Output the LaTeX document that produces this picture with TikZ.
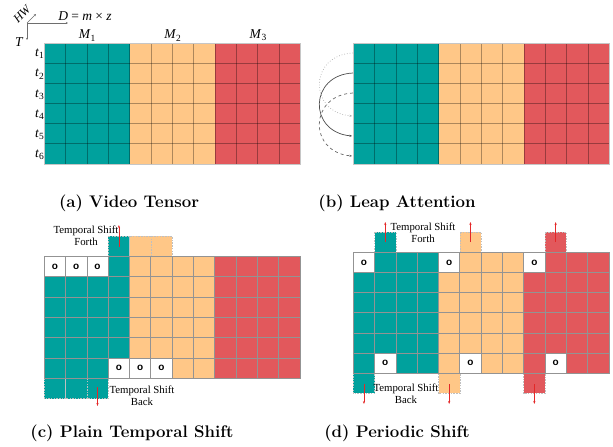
\documentclass[tikz,border=0pt]{standalone}
\usepackage{fontspec}
\newfontfamily\tfont{Liberation Serif}
\newfontfamily\sfont{Liberation Sans}
\usetikzlibrary{arrows.meta}
\definecolor{cteal}{RGB}{0,161,157}
\definecolor{corange}{RGB}{255,199,135}
\definecolor{cred}{RGB}{226,88,92}
\definecolor{cax}{RGB}{110,110,110}
\definecolor{carrow}{RGB}{228,40,40}
\newcommand\pcell[4]{\path[fill=#3,#4] ({\pX+(#1)*\pW},{\pY+(#2)*\pH}) rectangle ++(\pW,\pH);}
\tikzset{
  gl/.style={draw=black, draw opacity=0.32, line width=0.8pt},
  gl2/.style={draw=gray!85, line width=0.7pt},
  dcell/.style={draw=gray!50, dash pattern=on 1.5pt off 1.2pt, line width=0.6pt},
  rar/.style={draw=carrow, line width=0.6pt, -{Stealth[length=3pt,width=2.2pt]}},
  onode/.style={font=\sfont\bfseries\fontsize{10}{10}\selectfont, inner sep=0pt},
  lbl/.style={font=\tfont\fontsize{13.5}{13.5}\selectfont, inner sep=0pt},
  ts/.style={font=\tfont\fontsize{10.8}{11.8}\selectfont, align=center, inner sep=0pt},
  captxt/.style={font=\bfseries\fontsize{16.8}{17}\selectfont, inner sep=0pt},
  axis/.style={draw=cax, line width=0.6pt, -{Stealth[length=2.2pt,width=2pt]}},
  lk/.style={line width=0.7pt, -{Stealth[length=2.6pt,width=2.2pt]}}
}
\begin{document}
\begin{tikzpicture}[x=1pt,y=-1pt]
\useasboundingbox (0,0) rectangle (613,447);

% ---------- (a) and (b): full tensors ----------
\foreach \bx in {44.3,353.3}{
  \foreach \c in {0,...,3}{\foreach \r in {0,...,5}{
    \fill[cteal] ({\bx+\c*21.35},{43+\r*20.17}) rectangle ++(21.35,20.17);}}
  \foreach \c in {4,...,7}{\foreach \r in {0,...,5}{
    \fill[corange] ({\bx+\c*21.35},{43+\r*20.17}) rectangle ++(21.35,20.17);}}
  \foreach \c in {8,...,11}{\foreach \r in {0,...,5}{
    \fill[cred] ({\bx+\c*21.35},{43+\r*20.17}) rectangle ++(21.35,20.17);}}
  \foreach \i in {1,...,11}{\draw[gl] ({\bx+\i*21.35},43) -- ++(0,121.02);}
  \foreach \j in {1,...,5}{\draw[gl] (\bx,{43+\j*20.17}) -- ++(256.2,0);}
  \draw[gray!45, line width=0.8pt] (\bx,43) rectangle ++(256.2,121.02);
}

% axes of (a)
\coordinate (O) at (27,23);
\coordinate (Ox) at (68,23);
\coordinate (Oy) at (27,40);
\coordinate (Od) at (36,14);
\draw[axis] (O) -- (Ox);
\draw[axis] (O) -- (Oy);
\draw[axis] (O) -- (Od);
\node[lbl, rotate=45, font=\tfont\fontsize{12}{12}\selectfont] (hw) at (22,14) {\itshape HW};
\node[lbl] (dlab) at (85,16.5) {\textit{D} = \textit{m} × \textit{z}};
\node[lbl] (tlab) at (19,42.5) {\itshape T};
\node[lbl] (m1) at (87.4,35.5) {\textit{M}\textsubscript{1}};
\node[lbl] (m2) at (172.8,35.5) {\textit{M}\textsubscript{2}};
\node[lbl] (m3) at (258.2,35.5) {\textit{M}\textsubscript{3}};
\foreach \r in {1,...,6}{
  \node[lbl, anchor=east] (t\r) at (44.5,{44+(\r-0.5)*20.17}) {\textit{t}\textsubscript{\r}};}

% links of (b)
\coordinate (s1) at (353,53);  \coordinate (e1) at (352,116);
\coordinate (s2) at (353,73);  \coordinate (e2) at (352,136);
\coordinate (s3) at (353,93);  \coordinate (e3) at (352,156);
\draw[lk, gray!65, dotted] (s1) .. controls (309,55) and (308,112) .. (e1);
\draw[lk, black!70] (s2) .. controls (309,75) and (308,132) .. (e2);
\draw[lk, black!60, dashed] (s3) .. controls (309,95) and (308,152) .. (e3);

% ---------- (c) plain temporal shift ----------
\def\pX{44.3}\def\pY{256.3}\def\pW{21.3}\def\pH{20.33}
% dashed shifted-out cells
\pcell{3}{-1}{cteal}{dcell}
\pcell{4}{-1}{corange}{dcell}
\pcell{5}{-1}{corange}{dcell}
\foreach \c in {0,1,2}{\pcell{\c}{6}{cteal}{dcell}}
% main grid
\foreach \c in {0,1,2}{\pcell{\c}{0}{white}{gl2}
  \node[onode] (co\c) at ({\pX+(\c+0.5)*\pW},{\pY+0.5*\pH}) {o};}
\pcell{3}{0}{cteal}{gl2}
\foreach \r in {1,...,4}{\foreach \c in {0,...,3}{\pcell{\c}{\r}{cteal}{gl2}}}
\foreach \c in {0,1,2}{\pcell{\c}{5}{cteal}{gl2}}
\foreach \c in {3,4,5}{\pcell{\c}{5}{white}{gl2}
  \node[onode] (cb\c) at ({\pX+(\c+0.5)*\pW},{\pY+5.5*\pH}) {o};}
\foreach \r in {0,...,4}{\foreach \c in {4,...,7}{\pcell{\c}{\r}{corange}{gl2}}}
\foreach \c in {6,7}{\pcell{\c}{5}{corange}{gl2}}
\foreach \r in {0,...,5}{\foreach \c in {8,...,11}{\pcell{\c}{\r}{cred}{gl2}}}
% arrows and texts
\coordinate (cu0) at (118.9,247); \coordinate (cu1) at (118.9,225);
\draw[rar] (cu0) -- (cu1);
\coordinate (cd0) at (97.5,387); \coordinate (cd1) at (97.5,406);
\draw[rar] (cd0) -- (cd1);
\node[ts] (cforth) at (86,236) {Temporal Shift\\Forth};
\node[ts] (cback) at (142,396) {Temporal Shift\\Back};

% ---------- (d) periodic shift ----------
\def\pX{353.3}\def\pY{252.3}\def\pW{21.3}\def\pH{20.17}
\foreach \g/\col in {0/cteal,4/corange,8/cred}{
  \pcell{\g+1}{-1}{\col}{dcell}
  \pcell{\g}{6}{\col}{dcell}
  \pcell{\g}{0}{white}{gl2}
  \node[onode] (dt\g) at ({\pX+(\g+0.5)*\pW},{\pY+0.5*\pH}) {o};
  \foreach \c in {1,2,3}{\pcell{\g+\c}{0}{\col}{gl2}}
  \foreach \r in {1,...,4}{\foreach \c in {0,...,3}{\pcell{\g+\c}{\r}{\col}{gl2}}}
  \pcell{\g}{5}{\col}{gl2}
  \pcell{\g+1}{5}{white}{gl2}
  \node[onode] (db\g) at ({\pX+(\g+1.5)*\pW},{\pY+5.5*\pH}) {o};
  \pcell{\g+2}{5}{\col}{gl2}
  \pcell{\g+3}{5}{\col}{gl2}
  \coordinate (du\g) at ({\pX+(\g+1.5)*\pW},242);
  \coordinate (dU\g) at ({\pX+(\g+1.5)*\pW},222);
  \draw[rar] (du\g) -- (dU\g);
  \coordinate (dd\g) at ({\pX+(\g+0.5)*\pW},384);
  \coordinate (dD\g) at ({\pX+(\g+0.5)*\pW},404);
  \draw[rar] (dd\g) -- (dD\g);
}
\node[ts] (dforth) at (423,233) {Temporal Shift\\Forth};
\node[ts] (dback) at (406,394) {Temporal Shift\\Back};

% ---------- captions ----------
\node[captxt] (capa) at (129,203) {(a) Video Tensor};
\node[captxt] (capb) at (397,203) {(b) Leap Attention};
\node[captxt] (capc) at (132,433) {(c) Plain Temporal Shift};
\node[captxt] (capd) at (397,433) {(d) Periodic Shift};
\end{tikzpicture}
\end{document}
